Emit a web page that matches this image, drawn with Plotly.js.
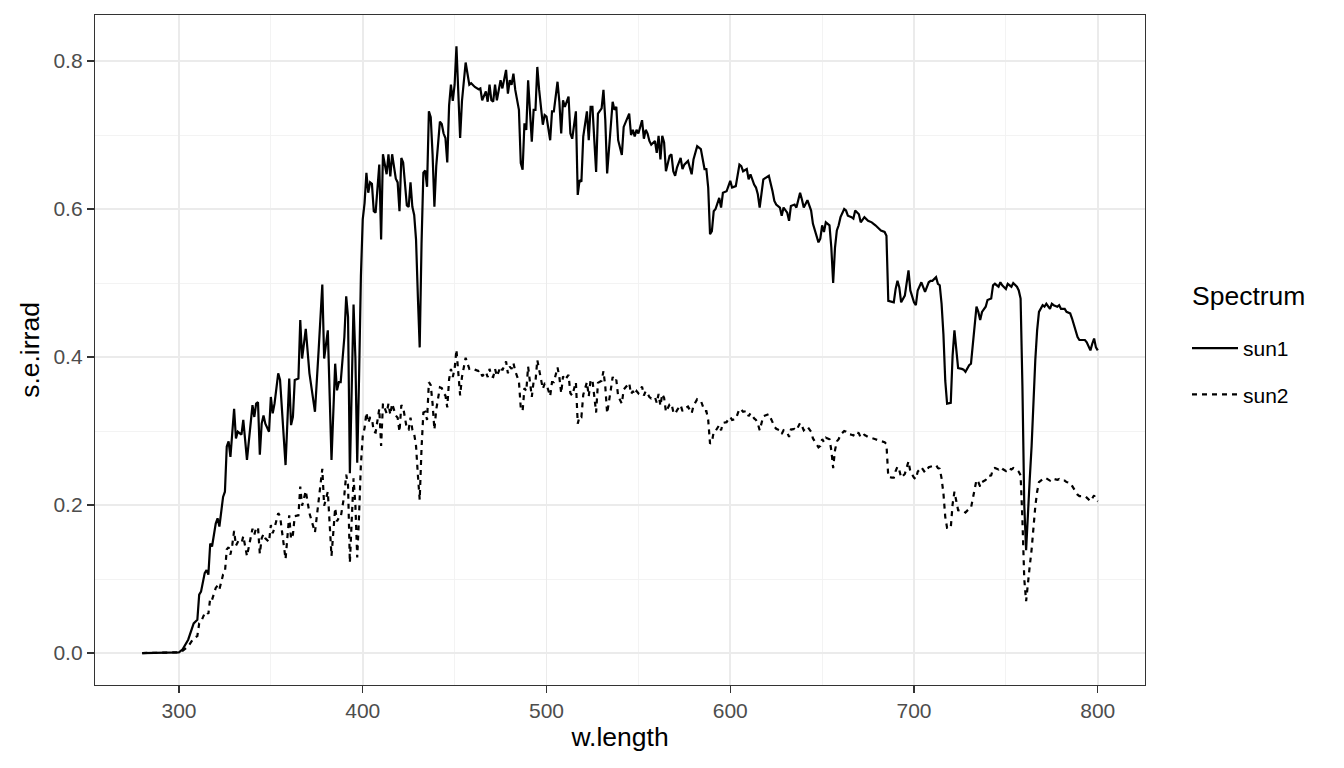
<!DOCTYPE html>
<html>
<head>
<meta charset="utf-8">
<script src="https://cdn.plot.ly/plotly-3.0.1.min.js"></script>
<style>
  html, body { margin: 0; padding: 0; background: #fff; }
  #plot { width: 1344px; height: 768px; }
</style>
</head>
<body>
<div id="plot"></div>
<script>
// wavelengths (nm)
var wLength = [
  280,285,290,295,298,300,302,305,308,310,
  311,312,314,315,316,317,318,320,321,322,
  324,325,326,327,328,329,330,331,332,334,
  335,337,340,341,342,343,344,345,346,347,
  349,350,351,352,354,355,358,360,361,362,
  363,365,366,367,369,371,374,376,378,379,
  381,383,385,386,387,388,390,391,392,393,
  395,396,397,398,399,400,401,402,403,404,
  405,406,407,409,410,411,413,414,415,416,
  418,419,420,421,422,424,425,426,427,428,
  429,430,431,432,433,434,435,436,437,438,
  439,440,442,443,444,445,446,447,448,449,
  450,451,452,453,454,455,456,458,459,461,
  463,464,465,467,468,469,470,471,472,473,
  475,476,478,479,480,481,482,483,485,486,
  487,488,489,490,491,492,493,494,495,496,
  498,499,500,502,503,504,506,507,508,509,
  510,512,513,514,516,517,518,519,520,522,
  523,524,525,527,528,530,531,532,533,535,
  536,537,538,539,541,542,544,545,546,547,
  548,549,550,552,553,554,555,556,557,559,
  560,561,562,563,564,565,567,568,569,570,
  571,573,574,575,577,579,580,582,584,585,
  586,587,588,589,590,591,592,594,595,596,
  598,599,600,601,603,605,606,607,609,610,
  611,613,614,615,616,618,619,621,623,624,
  625,627,628,629,631,632,633,635,636,638,
  639,640,642,644,645,647,648,649,650,651,
  652,654,655,656,657,658,659,660,662,663,
  664,666,667,668,670,671,673,675,677,679,
  681,682,684,685,686,688,689,690,691,692,
  693,695,696,697,698,700,701,702,704,705,
  706,708,709,710,712,713,714,715,716,717,
  718,720,721,722,723,724,726,727,728,730,
  731,733,734,735,736,737,739,740,742,743,
  744,746,747,748,750,751,753,754,756,757,
  758,759,760,761,762,763,764,765,766,767,
  768,770,771,772,774,775,776,778,779,780,
  782,783,785,786,787,789,790,791,793,794,
  796,797,798,799,800
];

// spectral irradiance of sun1
var sun1 = [
  0,0,0,0,0,0.001,0.005,0.018,0.040,0.045,
  0.079,0.083,0.108,0.112,0.106,0.148,0.144,0.175,0.182,0.171,
  0.211,0.218,0.279,0.286,0.265,0.292,0.330,0.290,0.299,0.295,
  0.315,0.261,0.335,0.319,0.337,0.339,0.268,0.310,0.321,0.310,
  0.299,0.346,0.324,0.337,0.378,0.369,0.254,0.371,0.308,0.319,
  0.369,0.371,0.450,0.398,0.438,0.378,0.326,0.409,0.498,0.398,
  0.436,0.261,0.391,0.355,0.366,0.366,0.427,0.482,0.454,0.243,
  0.471,0.399,0.257,0.372,0.509,0.586,0.608,0.649,0.622,0.636,
  0.634,0.597,0.595,0.660,0.559,0.674,0.647,0.674,0.644,0.674,
  0.641,0.636,0.597,0.669,0.663,0.605,0.603,0.636,0.603,0.592,
  0.559,0.482,0.413,0.553,0.649,0.652,0.630,0.732,0.724,0.674,
  0.603,0.658,0.718,0.715,0.702,0.696,0.663,0.740,0.768,0.746,
  0.768,0.820,0.768,0.696,0.746,0.768,0.798,0.768,0.770,0.765,
  0.762,0.763,0.747,0.759,0.745,0.768,0.747,0.745,0.768,0.747,
  0.774,0.763,0.788,0.756,0.774,0.768,0.783,0.761,0.734,0.662,
  0.653,0.716,0.707,0.774,0.732,0.691,0.734,0.734,0.792,0.761,
  0.714,0.727,0.725,0.693,0.732,0.732,0.772,0.745,0.702,0.747,
  0.738,0.752,0.702,0.695,0.732,0.619,0.639,0.637,0.698,0.732,
  0.693,0.738,0.738,0.650,0.729,0.736,0.761,0.720,0.648,0.711,
  0.745,0.734,0.738,0.693,0.673,0.711,0.725,0.729,0.700,0.707,
  0.698,0.707,0.702,0.720,0.695,0.707,0.702,0.692,0.687,0.692,
  0.676,0.699,0.667,0.699,0.690,0.651,0.672,0.674,0.651,0.645,
  0.656,0.669,0.654,0.660,0.665,0.647,0.667,0.685,0.681,0.669,
  0.654,0.654,0.629,0.566,0.570,0.597,0.600,0.615,0.602,0.622,
  0.624,0.631,0.638,0.629,0.631,0.660,0.658,0.651,0.654,0.640,
  0.647,0.633,0.629,0.620,0.602,0.640,0.642,0.645,0.624,0.611,
  0.606,0.602,0.591,0.602,0.595,0.584,0.604,0.606,0.602,0.622,
  0.613,0.602,0.612,0.598,0.580,0.562,0.555,0.560,0.578,0.569,
  0.582,0.578,0.548,0.500,0.548,0.571,0.578,0.589,0.600,0.598,
  0.591,0.589,0.587,0.598,0.593,0.582,0.589,0.584,0.582,0.578,
  0.573,0.571,0.569,0.564,0.476,0.474,0.474,0.492,0.503,0.494,
  0.474,0.483,0.503,0.517,0.490,0.474,0.470,0.490,0.501,0.494,
  0.488,0.501,0.503,0.503,0.508,0.499,0.497,0.472,0.431,0.368,
  0.337,0.338,0.402,0.436,0.411,0.385,0.384,0.383,0.380,0.389,
  0.391,0.438,0.468,0.461,0.450,0.461,0.468,0.477,0.479,0.497,
  0.499,0.495,0.501,0.497,0.492,0.499,0.495,0.500,0.495,0.490,
  0.479,0.360,0.200,0.139,0.200,0.236,0.280,0.346,0.396,0.436,
  0.461,0.470,0.468,0.472,0.465,0.472,0.470,0.468,0.470,0.465,
  0.465,0.461,0.459,0.452,0.443,0.427,0.423,0.423,0.423,0.420,
  0.409,0.418,0.425,0.413,0.409
];

// spectral irradiance of sun2
var sun2 = [
  0,0,0,0,0,0.001,0.003,0.009,0.020,0.023,
  0.040,0.042,0.054,0.056,0.053,0.074,0.072,0.088,0.091,0.086,
  0.106,0.109,0.140,0.143,0.133,0.146,0.165,0.145,0.150,0.148,
  0.158,0.131,0.168,0.160,0.169,0.170,0.134,0.155,0.161,0.155,
  0.150,0.173,0.162,0.169,0.189,0.185,0.127,0.186,0.154,0.160,
  0.185,0.186,0.225,0.199,0.219,0.189,0.163,0.205,0.249,0.199,
  0.218,0.131,0.196,0.178,0.183,0.183,0.214,0.241,0.227,0.122,
  0.236,0.200,0.129,0.186,0.255,0.293,0.304,0.325,0.311,0.318,
  0.317,0.299,0.298,0.330,0.280,0.337,0.324,0.337,0.322,0.337,
  0.321,0.318,0.299,0.335,0.332,0.303,0.302,0.318,0.302,0.296,
  0.280,0.241,0.207,0.277,0.325,0.326,0.315,0.366,0.362,0.337,
  0.302,0.329,0.359,0.358,0.351,0.348,0.332,0.370,0.384,0.373,
  0.384,0.410,0.384,0.348,0.373,0.384,0.399,0.384,0.385,0.383,
  0.381,0.382,0.374,0.380,0.373,0.384,0.374,0.373,0.384,0.374,
  0.387,0.382,0.394,0.378,0.387,0.384,0.392,0.381,0.367,0.331,
  0.327,0.358,0.354,0.387,0.366,0.346,0.367,0.367,0.396,0.381,
  0.357,0.364,0.363,0.347,0.366,0.366,0.386,0.373,0.351,0.374,
  0.369,0.376,0.351,0.348,0.366,0.310,0.320,0.319,0.349,0.366,
  0.347,0.369,0.369,0.325,0.365,0.368,0.381,0.360,0.324,0.356,
  0.373,0.367,0.369,0.347,0.337,0.356,0.363,0.365,0.350,0.354,
  0.349,0.354,0.351,0.360,0.348,0.354,0.351,0.346,0.344,0.346,
  0.338,0.350,0.334,0.350,0.345,0.326,0.336,0.337,0.326,0.323,
  0.328,0.335,0.327,0.330,0.333,0.324,0.334,0.343,0.341,0.335,
  0.327,0.327,0.315,0.283,0.285,0.299,0.300,0.308,0.301,0.311,
  0.312,0.316,0.319,0.315,0.316,0.330,0.329,0.326,0.327,0.320,
  0.324,0.317,0.315,0.310,0.301,0.320,0.321,0.323,0.312,0.306,
  0.303,0.301,0.296,0.301,0.298,0.292,0.302,0.303,0.301,0.311,
  0.307,0.301,0.306,0.299,0.290,0.281,0.278,0.280,0.289,0.285,
  0.291,0.289,0.274,0.250,0.274,0.286,0.289,0.295,0.300,0.299,
  0.296,0.295,0.294,0.299,0.297,0.291,0.295,0.292,0.291,0.289,
  0.287,0.286,0.285,0.282,0.238,0.237,0.237,0.246,0.252,0.247,
  0.237,0.242,0.252,0.259,0.245,0.237,0.235,0.245,0.251,0.247,
  0.244,0.251,0.252,0.252,0.254,0.250,0.249,0.236,0.216,0.184,
  0.169,0.169,0.201,0.218,0.206,0.193,0.192,0.192,0.190,0.195,
  0.196,0.219,0.234,0.231,0.225,0.231,0.234,0.239,0.240,0.249,
  0.250,0.248,0.251,0.249,0.246,0.250,0.248,0.250,0.248,0.245,
  0.240,0.180,0.100,0.070,0.100,0.118,0.140,0.173,0.198,0.218,
  0.231,0.235,0.234,0.236,0.233,0.236,0.235,0.234,0.235,0.233,
  0.233,0.231,0.230,0.226,0.222,0.214,0.212,0.212,0.212,0.210,
  0.205,0.209,0.213,0.207,0.205
];

var seriesNames = ['sun1', 'sun2'];
var xTicks = [300, 400, 500, 600, 700, 800];
var yTicks = [0, 0.2, 0.4, 0.6, 0.8];
var yTickText = ['0.0', '0.2', '0.4', '0.6', '0.8'];

var font = 'Liberation Sans, Arial, sans-serif';

var trace1 = {
  x: wLength, y: sun1, name: seriesNames[0], legendgroup: 'a',
  type: 'scatter', mode: 'lines',
  line: {color: '#000000', width: 2.2}
};
var trace2 = {
  x: wLength, y: sun2, name: seriesNames[1], legendgroup: 'b',
  type: 'scatter', mode: 'lines',
  line: {color: '#000000', width: 2.2, dash: '5px,5px'}
};

var gridMajor = '#EBEBEB';
var gridMinor = '#F2F2F2';

var layout = {
  width: 1344,
  height: 768,
  paper_bgcolor: '#ffffff',
  plot_bgcolor: '#ffffff',
  margin: {l: 95, r: 199, t: 15, b: 83},
  hovermode: false,
  font: {family: font, color: '#000000'},
  xaxis: {
    range: [254.3, 825.7],
    tickvals: xTicks,
    ticktext: xTicks.map(String),
    ticks: 'outside', ticklen: 7, tickwidth: 1.4, tickcolor: '#333333',
    tickfont: {size: 21, color: '#4D4D4D', family: font},
    showgrid: true, gridcolor: gridMajor, gridwidth: 1.6,
    minor: {tickvals: [350, 450, 550, 650, 750], showgrid: true, gridcolor: gridMinor, gridwidth: 0.9, ticks: ''},
    zeroline: false,
    showline: true, mirror: true, linecolor: '#333333', linewidth: 1.2,
    title: {text: 'w.length', font: {size: 26.5, family: font}, standoff: 6}
  },
  yaxis: {
    range: [-0.0432, 0.8622],
    tickvals: yTicks,
    ticktext: yTickText,
    ticks: 'outside', ticklen: 7, tickwidth: 1.4, tickcolor: '#333333',
    tickfont: {size: 21, color: '#4D4D4D', family: font},
    showgrid: true, gridcolor: gridMajor, gridwidth: 1.6,
    minor: {tickvals: [0.1, 0.3, 0.5, 0.7], showgrid: true, gridcolor: gridMinor, gridwidth: 0.9, ticks: ''},
    zeroline: false,
    showline: true, mirror: true, linecolor: '#333333', linewidth: 1.2,
    title: {text: 's.e.irrad', font: {size: 26.5, family: font}, standoff: 6}
  },
  showlegend: true,
  legend: {
    x: 1.040, xanchor: 'left',
    y: 0.533, yanchor: 'top',
    font: {size: 21, family: font, color: '#000000'},
    tracegroupgap: 16,
    itemwidth: 46,
    bgcolor: 'rgba(0,0,0,0)'
  },
  annotations: [{
    text: 'Spectrum', xref: 'paper', yref: 'paper',
    x: 1.0429, xanchor: 'left', y: 0.5806, yanchor: 'middle',
    showarrow: false, font: {size: 26.5, family: font, color: '#000000'}
  }]
};

Plotly.newPlot('plot', [trace1, trace2], layout, {staticPlot: true});
</script>
</body>
</html>
